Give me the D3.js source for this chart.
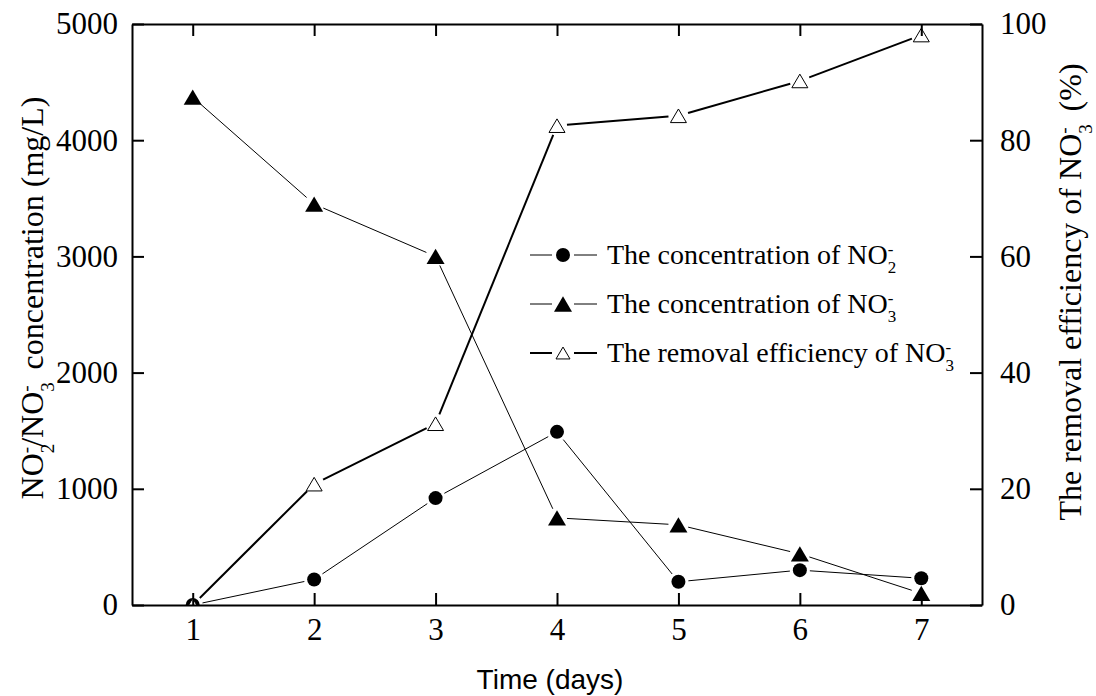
<!DOCTYPE html>
<html>
<head>
<meta charset="utf-8">
<script src="https://cdn.jsdelivr.net/npm/d3@7"></script>
<style>
  body { margin: 0; background: #fff; }
  text { font-family: "Liberation Serif", "Times New Roman", serif; fill: #000; }
</style>
</head>
<body>
<svg id="chart" width="1096" height="696"></svg>
<script>
// data
var days = [1, 2, 3, 4, 5, 6, 7];
var no2_conc = [0, 220, 920, 1490, 200, 300, 230];
var no3_conc = [4370, 3450, 3000, 750, 690, 440, 100];
var removal_eff = [0, 20.8, 31.2, 82.5, 84.2, 90.2, 98.1];

var left_ticks = [0, 1000, 2000, 3000, 4000, 5000];
var right_ticks = [0, 20, 40, 60, 80, 100];

var svg = d3.select("#chart");
var m = { left: 132, right: 982, top: 24, bottom: 605 };

var x = d3.scaleLinear().domain([0.5, 7.5]).range([m.left, m.right]);
var y = d3.scaleLinear().domain([0, 5000]).range([m.bottom, m.top]);
var y2 = d3.scaleLinear().domain([0, 100]).range([m.bottom, m.top]);

svg.append("defs").append("clipPath").attr("id", "clip")
  .append("rect")
  .attr("x", m.left).attr("y", m.top)
  .attr("width", m.right - m.left).attr("height", m.bottom - m.top);

// lines drawn as segments stopping short of the markers
function segments(values, scale, gap){
  var pts = days.map(function(d, i){ return [x(d), scale(values[i])]; });
  var segs = [];
  for(var i = 0; i < pts.length - 1; i++){
    var a = pts[i], b = pts[i + 1];
    var dx = b[0] - a[0], dy = b[1] - a[1];
    var len = Math.sqrt(dx * dx + dy * dy);
    if(len <= 2 * gap){ continue; }
    var ux = dx / len, uy = dy / len;
    segs.push([a[0] + ux * gap, a[1] + uy * gap, b[0] - ux * gap, b[1] - uy * gap]);
  }
  return segs;
}

var plot = svg.append("g").attr("clip-path", "url(#clip)");

function draw_line(values, scale, width){
  plot.append("g").selectAll("line")
    .data(segments(values, scale, 10))
    .enter().append("line")
    .attr("x1", function(d){ return d[0]; })
    .attr("y1", function(d){ return d[1]; })
    .attr("x2", function(d){ return d[2]; })
    .attr("y2", function(d){ return d[3]; })
    .attr("stroke", "#000")
    .attr("stroke-width", width);
}

draw_line(no2_conc, y, 1);
draw_line(no3_conc, y, 1);
draw_line(removal_eff, y2, 2);

function tri_path(w){
  var h = w * 0.85;
  return "M0," + (-h / 2) + "L" + (w / 2) + "," + (h / 2) + "L" + (-w / 2) + "," + (h / 2) + "Z";
}

plot.append("g").selectAll("circle")
  .data(days)
  .enter().append("circle")
  .attr("cx", function(d){ return x(d); })
  .attr("cy", function(d, i){ return y(no2_conc[i]); })
  .attr("r", 7)
  .attr("fill", "#000");

plot.append("g").selectAll("path")
  .data(days)
  .enter().append("path")
  .attr("transform", function(d, i){ return "translate(" + x(d) + "," + y(no3_conc[i]) + ")"; })
  .attr("d", tri_path(18))
  .attr("fill", "#000");

plot.append("g").selectAll("path")
  .data(days)
  .enter().append("path")
  .attr("transform", function(d, i){ return "translate(" + x(d) + "," + y2(removal_eff[i]) + ")"; })
  .attr("d", tri_path(16))
  .attr("fill", "#fff")
  .attr("stroke", "#000")
  .attr("stroke-width", 1);

// axes, ticks pointing inward
var fs = 31;

var ax_bottom = svg.append("g").attr("transform", "translate(0," + m.bottom + ")")
  .call(d3.axisBottom(x).tickValues(days).tickSizeInner(-12).tickSizeOuter(0).tickPadding(13).tickFormat(d3.format("d")));
var ax_top = svg.append("g").attr("transform", "translate(0," + m.top + ")")
  .call(d3.axisTop(x).tickValues(days).tickSizeInner(-12).tickSizeOuter(0).tickFormat(""));
var ax_left = svg.append("g").attr("transform", "translate(" + m.left + ",0)")
  .call(d3.axisLeft(y).tickValues(left_ticks).tickSizeInner(-12).tickSizeOuter(0).tickPadding(14).tickFormat(d3.format("d")));
var ax_right = svg.append("g").attr("transform", "translate(" + m.right + ",0)")
  .call(d3.axisRight(y2).tickValues(right_ticks).tickSizeInner(-12).tickSizeOuter(0).tickPadding(18).tickFormat(d3.format("d")));

[ax_bottom, ax_top, ax_left, ax_right].forEach(function(g){
  g.select(".domain").attr("stroke-width", 2);
  g.selectAll(".tick line").attr("stroke-width", 2);
  g.selectAll(".tick text")
    .style("font-family", "'Liberation Serif', serif")
    .style("font-size", fs + "px")
    .attr("fill", "#000");
});
ax_top.selectAll(".tick text").remove();

// x title
svg.append("text")
  .attr("x", 550)
  .attr("y", 689)
  .attr("text-anchor", "middle")
  .style("font-family", "'Liberation Sans', Arial, sans-serif")
  .style("font-size", "28px")
  .text("Time (days)");

// NO with a subscript digit and a superscript minus stacked above it,
// then the rest of the text back on the baseline
function add_no(t, sub, size, rest){
  var s = Math.round(size * 0.6);
  t.append("tspan").text("NO");
  t.append("tspan").attr("dy", (size * 0.33) + "px").style("font-size", s + "px").text(sub);
  t.append("tspan").attr("dx", (-s * 0.5) + "px").attr("dy", (-size * 0.66) + "px").style("font-size", s + "px").text("-");
  if(rest){
    t.append("tspan").attr("dy", (size * 0.33) + "px").text(rest);
  }
}

var lab_size = 32;
var yl = svg.append("text")
  .attr("transform", "translate(43,298) rotate(-90)")
  .attr("text-anchor", "middle")
  .style("font-size", lab_size + "px");
add_no(yl, "2", lab_size, "/");
add_no(yl, "3", lab_size, "\u00a0 concentration (mg/L)");

var yr = svg.append("text")
  .attr("transform", "translate(1081,292) rotate(-90)")
  .attr("text-anchor", "middle")
  .style("font-size", lab_size + "px");
yr.append("tspan").text("The removal efficiency of ");
add_no(yr, "3", lab_size, "\u00a0 (%)");

// legend
var legend_labels = ["2", "3", "3"];
var legend_text = ["The concentration of ", "The concentration of ", "The removal efficiency of "];
var legend_rows = [255, 304, 353];
var leg_size = 28;

var lg = svg.append("g");
legend_rows.forEach(function(ry, i){
  var row = lg.append("g").attr("transform", "translate(0," + ry + ")");
  row.append("line").attr("x1", 530).attr("x2", 552).attr("y1", 0).attr("y2", 0)
    .attr("stroke", "#000").attr("stroke-width", i == 2 ? 2 : 1);
  row.append("line").attr("x1", 574).attr("x2", 597).attr("y1", 0).attr("y2", 0)
    .attr("stroke", "#000").attr("stroke-width", i == 2 ? 2 : 1);
  if(i == 0){
    row.append("circle").attr("cx", 563).attr("cy", 0).attr("r", 7).attr("fill", "#000");
  } else if(i == 1){
    row.append("path").attr("transform", "translate(563,0)").attr("d", tri_path(18)).attr("fill", "#000");
  } else {
    row.append("path").attr("transform", "translate(563,0)").attr("d", tri_path(14))
      .attr("fill", "#fff").attr("stroke", "#000").attr("stroke-width", 1);
  }
  var t = row.append("text").attr("x", 607).attr("y", 9).style("font-size", leg_size + "px");
  t.append("tspan").text(legend_text[i]);
  add_no(t, legend_labels[i], leg_size);
});
</script>
</body>
</html>
